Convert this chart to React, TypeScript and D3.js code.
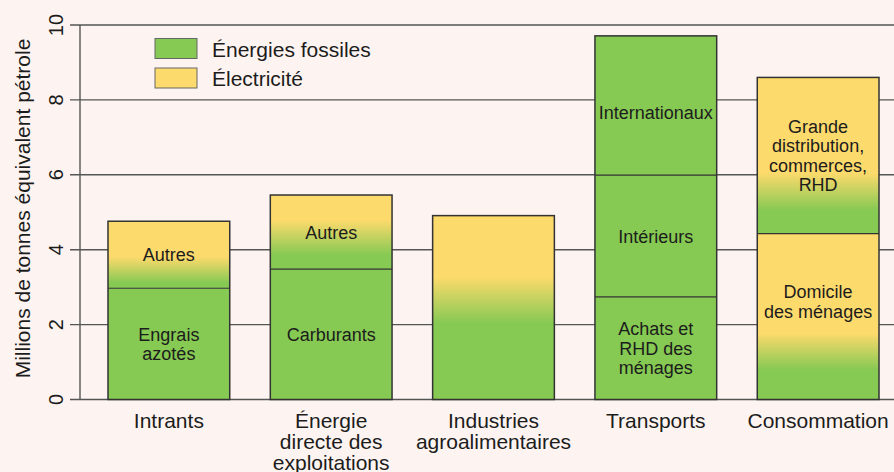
import React from "react";
import * as d3 from "d3";

const categories = ["Intrants", "Énergie\ndirecte des\nexploitations", "Industries\nagroalimentaires", "Transports", "Consommation"];
const segmentLabels = [
  ["Engrais\nazotés", "Autres"],
  ["Carburants", "Autres"],
  [""],
  ["Achats et\nRHD des\nménages", "Intérieurs", "Internationaux"],
  ["Domicile\ndes ménages", "Grande\ndistribution,\ncommerces,\nRHD"],
];
const segmentValues = [
  [2.97, 1.79],
  [3.48, 1.98],
  [4.91],
  [2.74, 3.25, 3.72],
  [4.43, 4.17],
];
// Fossil (green) below greenUntil, electricity (yellow) above yellowFrom, blended between; null = pure fossil
const mixGreenUntil = [[null, 3.11], [null, 3.86], [2.03], [null, null, null], [0.79, 5.05]];
const mixYellowFrom = [[null, 3.81], [null, 4.79], [3.28], [null, null, null], [1.77, 6.05]];
const yTicks = [0, 2, 4, 6, 8, 10];
const legendLabels = ["Énergies fossiles", "Électricité"];
const yTitle = "Millions de tonnes équivalent pétrole";

const GREEN = "#86C953";
const YELLOW = "#FDDA6C";
const BG = "#FDF4F1";
const INK = "#1c1c1c";
const FONT = "'Liberation Sans', Arial, Helvetica, sans-serif";
const labelNudge: Record<string, number> = { "Internationaux": 7, "Domicile\ndes ménages": -15 };

export default function App() {
  const W = 894, H = 472;
  const y = d3.scaleLinear().domain([0, 10]).range([399.5, 25]);
  const x = d3.scaleBand<number>().domain(categories.map((_, i) => i)).range([80, 907]).paddingInner(0.25).paddingOuter(0.1725);
  const bw = x.bandwidth();

  const defs: React.ReactNode[] = [];
  const fills: React.ReactNode[] = [];
  const seps: React.ReactNode[] = [];
  const outlines: React.ReactNode[] = [];
  const labels: React.ReactNode[] = [];

  categories.forEach((_, ci) => {
    const x0 = x(ci)!;
    let base = 0;
    segmentValues[ci].forEach((v, si) => {
      const top = base + v;
      const gU = mixGreenUntil[ci][si];
      const yF = mixYellowFrom[ci][si];
      let fill = GREEN;
      if (gU != null && yF != null) {
        const id = `g${ci}_${si}`;
        defs.push(
          <linearGradient key={id} id={id} gradientUnits="userSpaceOnUse" x1={0} x2={0} y1={y(gU)} y2={y(yF)}>
            <stop offset="0" stopColor={GREEN} />
            <stop offset="1" stopColor={YELLOW} />
          </linearGradient>
        );
        fill = `url(#${id})`;
      }
      fills.push(<rect key={`f${ci}_${si}`} x={x0} y={y(top)} width={bw} height={y(base) - y(top)} fill={fill} />);
      if (si > 0) {
        seps.push(<line key={`s${ci}_${si}`} x1={x0} x2={x0 + bw} y1={y(base)} y2={y(base)} stroke="#333" strokeWidth={1.1} />);
      }
      const lbl = segmentLabels[ci][si];
      if (lbl) {
        const lines = lbl.split("\n");
        const lh = 19.5;
        const cy = (y(base) + y(top)) / 2 + (labelNudge[lbl] || 0);
        const firstBase = cy - ((lines.length - 1) * lh) / 2 + 6.5;
        labels.push(
          <text key={`l${ci}_${si}`} x={x0 + bw / 2} textAnchor="middle" fontSize={18} fill={INK} fontFamily={FONT}>
            {lines.map((t, k) => (
              <tspan key={k} x={x0 + bw / 2} y={firstBase + k * lh}>{t}</tspan>
            ))}
          </text>
        );
      }
      base = top;
    });
    outlines.push(<rect key={`o${ci}`} x={x0} y={y(base)} width={bw} height={y(0) - y(base)} fill="none" stroke="#333" strokeWidth={1.5} />);
  });

  return (
    <svg width={W} height={H} style={{ position: "absolute", left: 0, top: 0, display: "block" }} fontFamily={FONT}>
      <rect x={0} y={0} width={W} height={H} fill={BG} />
      <defs>{defs}</defs>
      {yTicks.map((t) => (
        <line key={`gl${t}`} x1={70} x2={W} y1={y(t)} y2={y(t)} stroke="#555" strokeWidth={1.4} />
      ))}
      <line x1={80} x2={80} y1={y(10)} y2={y(0)} stroke="#555" strokeWidth={1.4} />
      {yTicks.map((t) => (
        <text key={`yt${t}`} transform={`translate(63,${y(t)}) rotate(-90)`} textAnchor="middle" fontSize={20} fill={INK}>{t}</text>
      ))}
      <text transform={`translate(30,208.5) rotate(-90)`} textAnchor="middle" fontSize={21} fill={INK}>{yTitle}</text>
      {fills}
      {seps}
      {outlines}
      {labels}
      {categories.map((c, ci) => (
        <text key={`c${ci}`} textAnchor="middle" fontSize={21} fill={INK}>
          {c.split("\n").map((t, k) => (
            <tspan key={k} x={x(ci)! + bw / 2} y={428 + k * 21}>{t}</tspan>
          ))}
        </text>
      ))}
      {legendLabels.map((l, i) => (
        <g key={`lg${i}`}>
          <rect x={155} y={38.5 + i * 29.5} width={42} height={20} fill={i === 0 ? GREEN : YELLOW} stroke="#666" strokeWidth={1} />
          <text x={212} y={56.5 + i * 29.5} fontSize={21} fill={INK}>{l}</text>
        </g>
      ))}
    </svg>
  );
}
